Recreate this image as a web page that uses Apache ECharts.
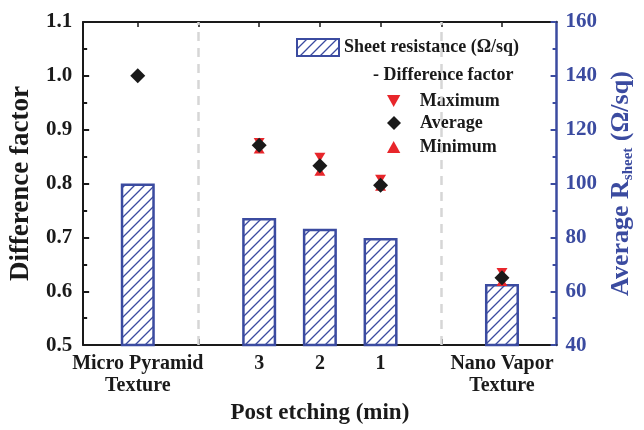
<!DOCTYPE html>
<html>
<head>
<meta charset="utf-8">
<style>
  html, body { margin: 0; padding: 0; background: #fff; }
  #chart { width: 644px; height: 430px; }
</style>
<script src="https://cdn.jsdelivr.net/npm/echarts@6/dist/echarts.min.js"></script>
</head>
<body>
<div id="chart"></div>
<script>
// x positions of the groups on the value axis (gaps at 1 and 5 hold the dashed separators)
const positions = [0, 2, 3, 4, 6];
const categories = ['Micro Pyramid\nTexture', '3', '2', '1', 'Nano Vapor\nTexture'];
const sheetResistance = [100, 87.2, 83.2, 79.8, 62.7];
const dfAverage = [1.0, 0.871, 0.833, 0.797, 0.625];
const dfMaximum = [null, 0.876, 0.849, 0.808, 0.635];
const dfMinimum = [null, 0.864, 0.823, 0.795, 0.618];
const separators = [1, 5];
const xTicks = [0, 1, 2, 3, 4, 5, 6];

const BLUE = '#3B4BA0';
const RED = '#E8262B';
const BLACK = '#1a1a1a';
const FONT = 'Liberation Serif';

// hatched fill for the bars
function hatch() {
  let c = document.createElement('canvas');
  c.width = 10; c.height = 10;
  let ctx = c.getContext('2d');
  ctx.fillStyle = '#fff';
  ctx.fillRect(0, 0, 10, 10);
  ctx.strokeStyle = BLUE;
  ctx.lineWidth = 1.3;
  ctx.beginPath();
  ctx.moveTo(0, 10); ctx.lineTo(10, 0);
  ctx.moveTo(-2, 2); ctx.lineTo(2, -2);
  ctx.moveTo(8, 12); ctx.lineTo(12, 8);
  ctx.stroke();
  return { image: c, repeat: 'repeat' };
}

function pairs(vals) {
  return positions.map((p, i) => vals[i] == null ? [p, '-'] : [p, vals[i]]);
}

const triDown = 'path://M0,0 L10,0 L5,9 Z';
const triUp = 'path://M5,0 L10,9 L0,9 Z';

const chart = echarts.init(document.getElementById('chart'));

const lbl = { fontFamily: FONT, fontWeight: 'bold', fontSize: 21, color: BLACK };
const legText = { fontFamily: FONT, fontWeight: 'bold', fontSize: 18, color: BLACK, padding: [0, 0, 0, 14] };

const option = {
  animation: false,
  textStyle: { fontFamily: FONT },
  grid: { left: 81, right: 87, top: 22, bottom: 57 },
  legend: [
    {
      data: ['Sheet resistance (Ω/sq)'], left: 296, top: 38, padding: 0, selectedMode: false,
      icon: 'rect', itemWidth: 42, itemHeight: 17,
      textStyle: { fontFamily: FONT, fontWeight: 'bold', fontSize: 18, color: BLACK }
    },
    {
      data: ['Maximum'], left: 387, top: 92, padding: 0, selectedMode: false,
      itemWidth: 14, itemHeight: 12, textStyle: legText
    },
    {
      data: ['Average'], left: 387, top: 114, padding: 0, selectedMode: false,
      itemWidth: 14, itemHeight: 14, textStyle: legText
    },
    {
      data: ['Minimum'], left: 387, top: 138, padding: 0, selectedMode: false,
      itemWidth: 14, itemHeight: 12, textStyle: legText
    }
  ],
  graphic: [{
    type: 'text', left: 373, top: 66,
    style: { text: '- Difference factor', fontFamily: FONT, fontWeight: 'bold', fontSize: 18, fill: BLACK }
  }],
  xAxis: [
    {
      type: 'value', min: -0.9, max: 6.9, position: 'bottom',
      name: 'Post etching (min)', nameLocation: 'middle', nameGap: 27,
      nameTextStyle: { fontFamily: FONT, fontWeight: 'bold', fontSize: 23, color: BLACK },
      axisLine: { onZero: false, lineStyle: { color: BLACK, width: 2 } },
      axisTick: { inside: true, length: 6, customValues: xTicks, lineStyle: { color: BLACK, width: 2 } },
      axisLabel: Object.assign({}, lbl, {
        fontSize: 20, customValues: positions, margin: 8, lineHeight: 22,
        formatter: v => categories[positions.indexOf(v)] || ''
      }),
      splitLine: { show: false }
    },
    {
      type: 'value', min: -0.9, max: 6.9, position: 'top',
      axisLine: { onZero: false, lineStyle: { color: BLACK, width: 2 } },
      axisTick: { inside: true, length: 5, customValues: xTicks, lineStyle: { color: BLACK, width: 1.5 } },
      axisLabel: { show: false },
      splitLine: { show: false }
    }
  ],
  yAxis: [
    {
      type: 'value', min: 0.5, max: 1.1, interval: 0.1, position: 'left',
      name: 'Difference factor', nameLocation: 'middle', nameGap: 48, nameRotate: 90,
      nameTextStyle: { fontFamily: FONT, fontWeight: 'bold', fontSize: 27, color: BLACK },
      axisLine: { show: true, onZero: false, lineStyle: { color: BLACK, width: 2 } },
      axisTick: { inside: true, length: 6, lineStyle: { color: BLACK, width: 2 } },
      minorTick: { show: true, splitNumber: 2, length: 4, lineStyle: { color: BLACK, width: 2 } },
      axisLabel: Object.assign({}, lbl, { margin: 11, formatter: v => v.toFixed(1) }),
      splitLine: { show: false }
    },
    {
      type: 'value', min: 40, max: 160, interval: 20, position: 'right',
      name: '{a|Average R}{sub|sheet}{a| (Ω/sq)}', nameLocation: 'middle', nameGap: 45, nameRotate: 90,
      nameTextStyle: {
        rich: {
          a: { fontFamily: FONT, fontWeight: 'bold', fontSize: 26, color: BLUE, lineHeight: 30, verticalAlign: 'middle' },
          sub: { fontFamily: FONT, fontWeight: 'bold', fontSize: 15, color: BLUE, lineHeight: 16, verticalAlign: 'bottom' }
        }
      },
      axisLine: { show: true, onZero: false, lineStyle: { color: BLUE, width: 2.5 } },
      axisTick: { inside: true, length: 6, lineStyle: { color: BLUE, width: 2 } },
      minorTick: { show: true, splitNumber: 2, length: 4, lineStyle: { color: BLUE, width: 2 } },
      axisLabel: Object.assign({}, lbl, { color: BLUE, margin: 9 }),
      splitLine: { show: false }
    }
  ],
  series: [
    {
      name: 'Sheet resistance (Ω/sq)', type: 'bar', yAxisIndex: 1,
      barWidth: 34,
      itemStyle: { color: hatch(), borderColor: BLUE, borderWidth: 2.5, borderRadius: 0 },
      data: pairs(sheetResistance),
      markLine: {
        silent: true, symbol: ['none', 'none'], label: { show: false },
        lineStyle: { color: '#d6d6d6', width: 2.5, type: [9, 7] },
        data: separators.map(x => ({ xAxis: x }))
      }
    },
    {
      name: 'Maximum', type: 'scatter', symbol: triDown, symbolSize: [11, 9],
      itemStyle: { color: RED, opacity: 1 }, z: 3,
      data: pairs(dfMaximum)
    },
    {
      name: 'Minimum', type: 'scatter', symbol: triUp, symbolSize: [11, 9],
      itemStyle: { color: RED, opacity: 1 }, z: 3,
      data: pairs(dfMinimum)
    },
    {
      name: 'Average', type: 'scatter', symbol: 'diamond', symbolSize: [15, 15],
      itemStyle: { color: BLACK, opacity: 1 }, z: 4,
      data: pairs(dfAverage)
    }
  ]
};

chart.setOption(option);
</script>
</body>
</html>
